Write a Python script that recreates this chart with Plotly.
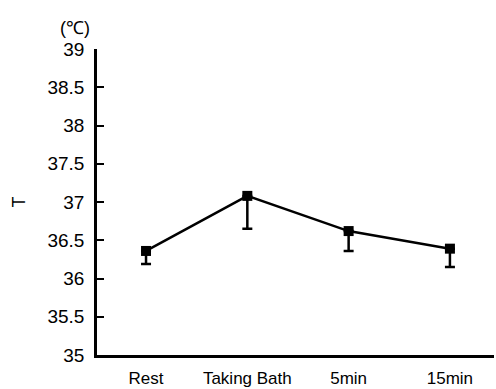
import plotly.graph_objects as go

categories = ["Rest", "Taking Bath", "5min", "15min"]
temps = [36.36, 37.08, 36.62, 36.39]
err_minus = [0.17, 0.43, 0.26, 0.24]
err_plus = [0, 0, 0, 0]
y_ticks = [35, 35.5, 36, 36.5, 37, 37.5, 38, 38.5, 39]

xpos = list(range(len(categories)))

fig = go.Figure()
fig.add_trace(go.Scatter(
    x=xpos, y=temps, mode="lines+markers",
    line=dict(color="black", width=2.5),
    marker=dict(symbol="square", size=10, color="black"),
    error_y=dict(type="data", symmetric=False, array=err_plus, arrayminus=err_minus,
                 color="black", thickness=2.5, width=5),
    showlegend=False,
))

font = dict(family="Liberation Sans, Arial, sans-serif", size=18, color="black")

fig.update_layout(
    template="none",
    width=496, height=389,
    margin=dict(l=97, r=2, t=49, b=34),
    paper_bgcolor="white", plot_bgcolor="white",
    font=font,
    xaxis=dict(
        range=[-0.484, 3.435], tickvals=xpos, ticktext=categories,
        showline=True, linecolor="black", linewidth=2.5,
        showgrid=False, zeroline=False, automargin=False,
        ticks="outside", ticklen=6, tickcolor="rgba(0,0,0,0)",
        tickfont=dict(size=17),
    ),
    yaxis=dict(
        range=[35, 39], tickvals=y_ticks, ticktext=[f"{v:g}" for v in y_ticks],
        showline=True, linecolor="black", linewidth=2.5,
        showgrid=False, zeroline=False, automargin=False,
        ticks="inside", ticklen=7, tickwidth=2, tickcolor="black",
        ticklabelstandoff=6, tickfont=dict(size=19),
        title=dict(text="T", standoff=18, font=dict(size=18)),
    ),
    annotations=[dict(
        text="(℃)", x=-0.055, y=1.07, xref="paper", yref="paper",
        showarrow=False, xanchor="center", yanchor="middle",
        font=dict(size=18),
    )],
)

fig.write_html(
    "out.html",
    config={"displayModeBar": False},
    post_script="document.body.style.margin='0';document.body.style.overflow='hidden';",
)
